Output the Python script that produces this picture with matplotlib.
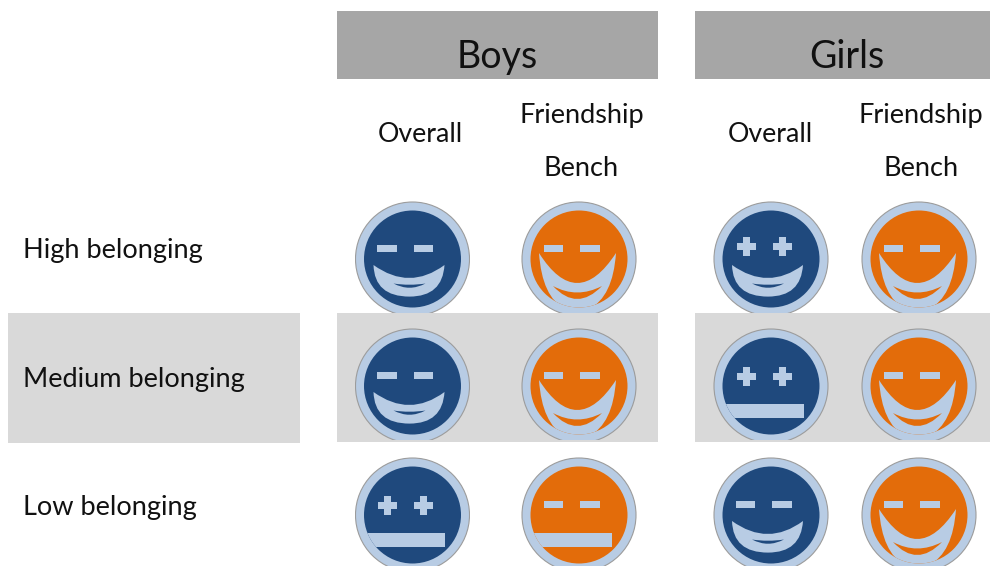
import matplotlib.pyplot as plt
from matplotlib.patches import Circle, PathPatch, Rectangle
from matplotlib.path import Path

# Contenido de la tabla
groups = ['Boys', 'Girls']
columns = ['Overall', 'Friendship\nBench', 'Overall', 'Friendship\nBench']
rows = ['High belonging', 'Medium belonging', 'Low belonging']
face_colors = ['#1F497D', '#E36C0A', '#1F497D', '#E36C0A']

# Ojos y boca de cada cara, por fila y columna
eyes = [['minus', 'minus', 'plus', 'minus'],
        ['minus', 'minus', 'plus', 'minus'],
        ['plus', 'minus', 'minus', 'minus']]
mouths = [['smile', 'beard', 'smile', 'beard'],
          ['smile', 'beard', 'flat', 'beard'],
          ['flat', 'flat', 'smile', 'beard']]

LIGHT = '#B8CCE4'
GRAY = '#D9D9D9'
HEADER = '#A6A6A6'
INK = '#111111'
FONT = 'Lato'

col_x = [412.5, 579, 771, 919]
row_y = [259, 386, 515]
col_text_x = [420, 581.5, 770, 921]
row_text_y = [258, 387, 515]

fig = plt.figure(figsize=(9.9, 5.66), dpi=100)
ax = fig.add_axes([0, 0, 1, 1])
ax.set_xlim(0, 990)
ax.set_ylim(566, 0)
ax.axis('off')

# Fondos
for x0, x1, y1 in [(8, 300, 443), (337, 658, 442), (695, 990, 442)]:
    ax.add_patch(Rectangle((x0, 313), x1 - x0, y1 - 313, color=GRAY, lw=0, zorder=1))
for x0, x1, xt, name in [(337, 658, 497.5, groups[0]), (695, 990, 846.5, groups[1])]:
    ax.add_patch(Rectangle((x0, 11), x1 - x0, 68, color=HEADER, lw=0, zorder=1))
    ax.text(xt, 68, name, fontsize=27, family=FONT, ha='center', va='baseline', color=INK)


def curve(cx, cy, pts):
    # pts: primer punto y luego pares (control, final) de curvas cuadraticas
    verts = [(cx + pts[0][0], cy + pts[0][1])]
    codes = [Path.MOVETO]
    for p in pts[1:]:
        verts.append((cx + p[0], cy + p[1]))
        codes.append(Path.CURVE3)
    verts.append(verts[0])
    codes.append(Path.CLOSEPOLY)
    return Path(verts, codes)


def draw_face(cx, cy, color, eye, mouth):
    clip = Rectangle((cx - 58, cy - 58), 115.5, 112, transform=ax.transData)
    ring = Circle((cx, cy), 57, fc=LIGHT, ec='#9C9C9C', lw=0.8, zorder=2)
    ax.add_patch(ring)
    ring.set_clip_path(clip)
    inner = Circle((cx, cy), 48.5, fc=color, lw=0, zorder=3)
    ax.add_patch(inner)

    parts = []
    # ojos
    if eye == 'minus':
        ey = -10.5
        for ex in [-25.5, 11]:
            parts.append((Rectangle((cx + ex - 9.7, cy + ey - 3.5), 19.4, 7, fc=LIGHT, lw=0), 4))
    else:
        ey = -13 if mouth != 'flat' else -10
        for ex in [-25, 11]:
            parts.append((Rectangle((cx + ex - 9.5, cy + ey - 3.5), 19, 7, fc=LIGHT, lw=0), 4))
            parts.append((Rectangle((cx + ex - 3.5, cy + ey - 9.5), 7, 19, fc=LIGHT, lw=0), 4))

    # boca
    if mouth == 'flat':
        parts.append((Rectangle((cx - 50, cy + 17.5), 82.5, 14.5, fc=LIGHT, lw=0), 4))
    elif mouth == 'smile':
        parts.append((PathPatch(curve(cx, cy, [(-39, 6), (-3, 32), (32, 6), (30, 37.6), (-3, 37.6), (-38, 37.6), (-39, 6)]),
                                fc=LIGHT, lw=0), 4))
        parts.append((PathPatch(curve(cx, cy, [(-19, 24.5), (-3, 33), (13, 24.5), (-3, 27), (-19, 24.5)]),
                                fc=color, lw=0), 5))
    else:
        parts.append((PathPatch(curve(cx, cy, [(-40, -6), (-2, 54), (37, -6), (34, 38), (10, 50), (-2, 52), (-14, 50),
                                               (-37, 38), (-40, -6)]),
                                fc=LIGHT, lw=0), 4))
        parts.append((PathPatch(curve(cx, cy, [(-26, 27), (-2, 53), (23, 27), (-2, 40), (-26, 27)]),
                                fc=color, lw=0), 5))

    for patch, z in parts:
        patch.set_zorder(z)
        ax.add_patch(patch)
        patch.set_clip_path(inner)


# Textos de columnas y filas
for x, label in zip(col_text_x, columns):
    if '\n' in label:
        top, bottom = label.split('\n')
        ax.text(x, 123, top, fontsize=19.5, family=FONT, ha='center', va='baseline', color=INK)
        ax.text(x, 176, bottom, fontsize=19.5, family=FONT, ha='center', va='baseline', color=INK)
    else:
        ax.text(x, 141.5, label, fontsize=19.3, family=FONT, ha='center', va='baseline', color=INK)
for y, label in zip(row_text_y, rows):
    ax.text(23, y, label, fontsize=19.5, family=FONT, ha='left', va='baseline', color=INK)

# Caras
for r, y in enumerate(row_y):
    for c, x in enumerate(col_x):
        draw_face(x, y, face_colors[c], eyes[r][c], mouths[r][c])

fig.savefig('out.png', dpi=100)
